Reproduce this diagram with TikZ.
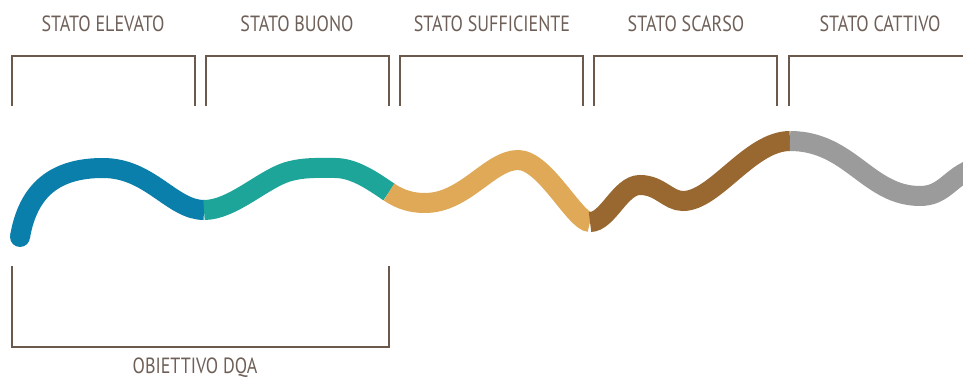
\documentclass[tikz,border=0pt]{standalone}
\usepackage{fontspec}
\setmainfont[FakeStretch=0.82]{PT Sans}
\definecolor{txt}{HTML}{6E6058}
\definecolor{brk}{HTML}{6B5A4C}
\definecolor{cblue}{HTML}{0B7FAB}
\definecolor{cteal}{HTML}{1DA59A}
\definecolor{cgold}{HTML}{DFA958}
\definecolor{cbrown}{HTML}{996730}
\definecolor{cgray}{HTML}{9B9B9B}
\tikzset{
  lbl/.style={text=txt,font=\fontsize{22}{24}\selectfont,inner sep=0pt},
  brack/.style={draw=brk,line width=2pt},
  river/.style={line width=20pt,line cap=butt}
}
\begin{document}
\begin{tikzpicture}[x=1pt,y=-1pt]
\useasboundingbox (0,0) rectangle (963,379);
% labels
\node[lbl] (l1) at (103,23.5) {STATO ELEVATO};
\node[lbl] (l2) at (297,23.5) {STATO BUONO};
\node[lbl] (l3) at (492,23.5) {STATO SUFFICIENTE};
\node[lbl] (l4) at (686,23.5) {STATO SCARSO};
\node[lbl] (l5) at (880,23.5) {STATO CATTIVO};
\node[lbl] (l6) at (195,368) {OBIETTIVO DQA};
% top brackets
\draw[brack] (12,106) -- (12,56) -- (195,56) -- (195,106);
\draw[brack] (206,106) -- (206,56) -- (389,56) -- (389,106);
\draw[brack] (400,106) -- (400,56) -- (583,56) -- (583,106);
\draw[brack] (594,106) -- (594,56) -- (777,56) -- (777,106);
\draw[brack] (789,106) -- (789,56) -- (970,56);
% bottom bracket
\draw[brack] (12,266) -- (12,347) -- (389,347) -- (389,266);
% river
\coordinate (p0) at (20,237);
\coordinate (p1) at (103,168);
\coordinate (p2) at (204,210);
\coordinate (p3) at (287,172);
\coordinate (p4) at (335,168);
\coordinate (p5) at (389,192);
\coordinate (p6) at (425,203);
\coordinate (p7) at (518,160);
\coordinate (p8) at (590,222);
\coordinate (p9) at (640,185);
\coordinate (p10) at (683,201);
\coordinate (p11) at (790,141);
\coordinate (p12) at (920,196);
\coordinate (p13) at (975,168);
\fill[cblue] (p0) circle (10pt);
\draw[river,cblue] (p0) .. controls (28,190) and (55,168) .. (p1)
  .. controls (150,168) and (172,210) .. (p2);
\draw[river,cteal] (p2) .. controls (232,210) and (262,180) .. (p3)
  .. controls (304,167) and (318,168) .. (p4)
  .. controls (355,168) and (374,182) .. (p5);
\draw[river,cgold] (p5) .. controls (401,200) and (412,203) .. (p6)
  .. controls (465,203) and (490,160) .. (p7)
  .. controls (545,160) and (575,222) .. (p8);
\draw[river,cbrown] (p8) .. controls (608,222) and (620,185) .. (p9)
  .. controls (660,185) and (668,201) .. (p10)
  .. controls (715,201) and (750,141) .. (p11);
\draw[river,cgray] (p11) .. controls (850,141) and (868,196) .. (p12)
  .. controls (945,196) and (950,176) .. (p13);
\end{tikzpicture}
\end{document}
